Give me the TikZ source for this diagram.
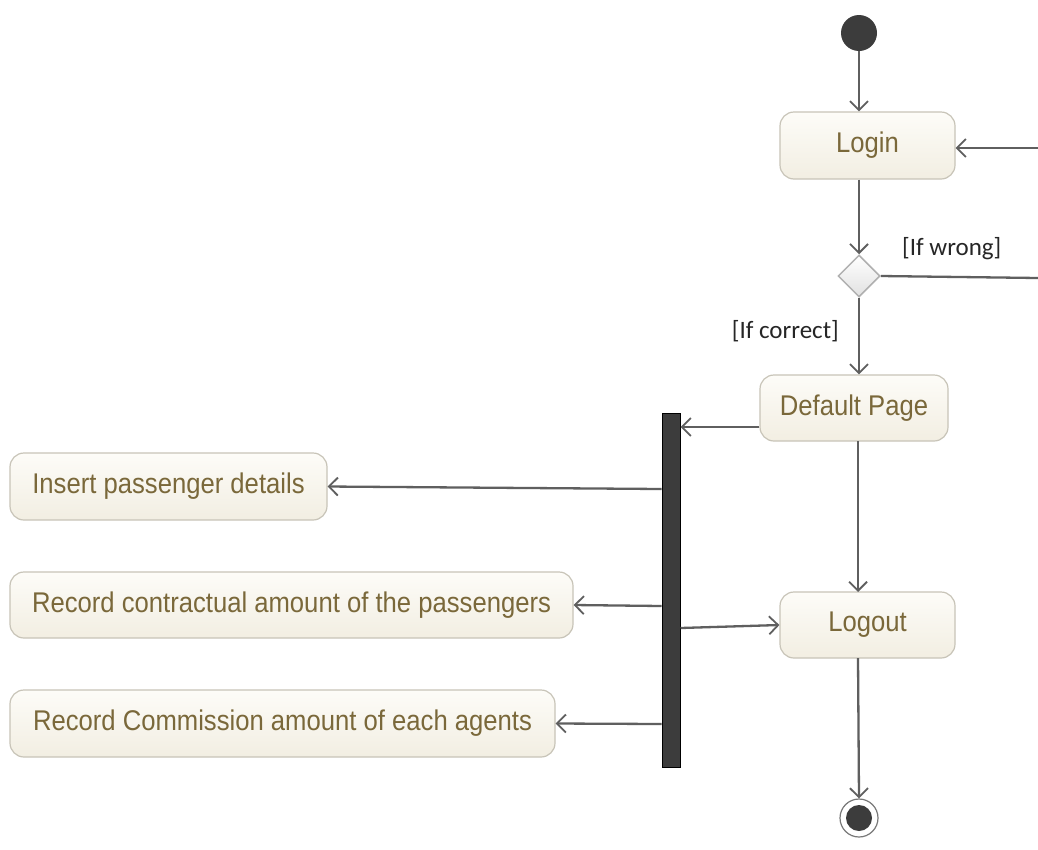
\documentclass[tikz,border=0pt]{standalone}
\usepackage{fontspec}
\setmainfont{Liberation Sans}
\newfontfamily\boxfont{Liberation Sans}[FakeStretch=0.9]
\newfontfamily\labfont{Carlito}
\usetikzlibrary{arrows.meta,shapes.geometric,shadows}
\definecolor{boxtext}{RGB}{122,104,58}
\definecolor{boxborder}{RGB}{200,196,184}
\definecolor{boxtop}{RGB}{253,252,248}
\definecolor{boxbot}{RGB}{242,238,226}
\definecolor{linec}{RGB}{95,95,95}
\definecolor{darkfill}{RGB}{60,60,60}
\definecolor{decborder}{RGB}{176,176,176}
\definecolor{decbot}{RGB}{225,225,225}
\definecolor{finborder}{RGB}{120,120,120}
\tikzset{
  act/.style={draw=boxborder, line width=1.2pt, rounded corners=14pt,
    top color=boxtop, bottom color=boxbot, text=boxtext,
    font=\boxfont\fontsize{28.5}{32}\selectfont, inner sep=0pt, anchor=center},
  arr/.style={draw=linec, line width=2.3pt, -{Straight Barb[length=9pt,width=18pt,line width=1.8pt]}},
  ln/.style={draw=linec, line width=2.3pt},
  lab/.style={font=\labfont\fontsize{25}{28}\selectfont, text=black!85, inner sep=0pt}
}
\begin{document}
\begin{tikzpicture}[x=1pt,y=-1pt]
\useasboundingbox[fill=white] (0,0) rectangle (1038,849);
% initial
\node[circle, fill=darkfill, minimum size=36pt, inner sep=0pt] (init) at (859,33) {};
% activities
\node[act, minimum width=175pt, minimum height=67pt] (login) at (867.5,145.5) {Login};
\node[diamond, draw=decborder, line width=1.5pt, top color=white, bottom color=decbot, minimum width=42pt, minimum height=42pt, inner sep=0pt] (dec) at (859,276) {};
\node[act, minimum width=188pt, minimum height=66pt] (dp) at (854,408) {Default Page};
\node[act, minimum width=175pt, minimum height=66pt] (logout) at (867.5,625) {Logout};
\node[act, minimum width=317pt, minimum height=67pt] (ins) at (168.5,486.5) {Insert passenger details};
\node[act, minimum width=563pt, minimum height=66pt] (con) at (291.5,605) {Record contractual amount of the passengers};
\node[act, minimum width=545pt, minimum height=67pt] (com) at (282.5,723.5) {Record Commission amount of each agents};
% fork bar
\node[draw=black, line width=1pt, fill=darkfill, minimum width=18pt, minimum height=354pt, inner sep=0pt] (bar) at (671,590) {};
% final
\node[circle, draw=finborder, line width=1.2pt, fill=white, minimum size=38pt, inner sep=0pt] (fin) at (859,818) {};
\node[circle, fill=darkfill, minimum size=26pt, inner sep=0pt] (finin) at (fin.center) {};
% labels
\node[lab, anchor=west] (lw) at (902,249) {[If wrong]};
\node[lab, anchor=east] (lc) at (839,331) {[If correct]};
% off-image coordinates
\coordinate (r1) at (1038,148);
\coordinate (r2) at (1038,278);
% connectors
\draw[arr] (init) -- (init |- login.north);
\draw[arr] (init |- login.south) -- (dec.north);
\draw[ln] (dec.east) -- (r2);
\draw[arr] (r1) -- (login.east |- r1);
\draw[arr] (dec.south) -- (dec |- dp.north);
\draw[arr] (dp.west |- 0,427) -- (bar.east |- 0,427);
\draw[arr] (858,441) -- (858,592);
\draw[arr] (bar.west |- 0,489) -- (ins.east);
\draw[arr] (bar.west |- 0,606) -- (con.east);
\draw[arr] (bar.west |- 0,724) -- (com.east);
\draw[arr] (bar.east |- 0,628) -- (logout.west);
\draw[arr] (858,658) -- (fin.north);
\end{tikzpicture}
\end{document}
